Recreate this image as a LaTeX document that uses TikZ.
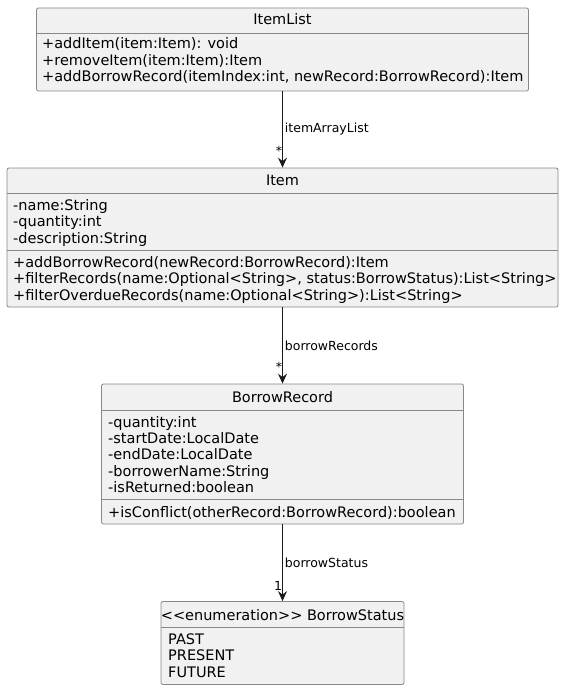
\documentclass[tikz,border=0pt]{standalone}
\usepackage{fontspec}
\setmainfont{DejaVu Sans}
\usetikzlibrary{arrows.meta,positioning}
\definecolor{umlfill}{RGB}{241,241,241}
\definecolor{umlborder}{RGB}{135,135,135}
\definecolor{umlline}{RGB}{24,24,24}
\tikzstyle{classbox} = [rectangle, rounded corners=2pt, draw=umlborder, fill=umlfill, line width=0.8pt, inner sep=0pt]
\tikzstyle{classtitle} = [font=\fontsize{14.5}{16}\selectfont, anchor=base, inner sep=0pt]
\tikzstyle{member} = [font=\fontsize{14.5}{16}\selectfont, anchor=base west, inner sep=0pt]
\tikzstyle{divider} = [draw=umlborder, line width=0.8pt]
\tikzstyle{assoc} = [line width=0.9pt, draw=umlline, -{Stealth[length=10pt,width=9pt,inset=3.5pt]}]
\tikzstyle{role} = [font=\fontsize{12.5}{14}\selectfont, inner sep=0pt]

\begin{document}
\begin{tikzpicture}[x=1pt, y=-1pt]
\useasboundingbox (0,0) rectangle (564,690);
% ItemList
\node (itemlist) [classbox, minimum width=492pt, minimum height=83pt] at (282.5,49.5) {};
\node (itemlist-title) [classtitle] at (282.5,25) {ItemList};
\draw[divider] (itemlist.west |- 0,33) -- (itemlist.east |- 0,33);
\foreach \txt [count=\i from 0] in {+addItem(item:Item): void, +removeItem(item:Item):Item, {+addBorrowRecord(itemIndex:int, newRecord:BorrowRecord):Item}}
  \node (itemlist-m\i) [member] at (42,{49+16.5*\i}) {\txt};

% Item
\node (item) [classbox, minimum width=551pt, minimum height=139pt] at (282.5,237.5) {};
\node (item-title) [classtitle] at (282.5,185) {Item};
\draw[divider] (item.west |- 0,193) -- (item.east |- 0,193);
\foreach \txt [count=\i from 0] in {-name:String, -quantity:int, -description:String}
  \node (item-a\i) [member] at (13,{210+16.5*\i}) {\txt};
\draw[divider] (item.west |- 0,250) -- (item.east |- 0,250);
\foreach \txt [count=\i from 0] in {+addBorrowRecord(newRecord:BorrowRecord):Item, {+filterRecords(name:Optional<String>, status:BorrowStatus):List<String>}, +filterOverdueRecords(name:Optional<String>):List<String>}
  \node (item-m\i) [member] at (13,{267+16.5*\i}) {\txt};

% BorrowRecord
\node (record) [classbox, minimum width=362pt, minimum height=140pt] at (282.5,454) {};
\node (record-title) [classtitle] at (282.5,402) {BorrowRecord};
\draw[divider] (record.west |- 0,410) -- (record.east |- 0,410);
\foreach \txt [count=\i from 0] in {-quantity:int, -startDate:LocalDate, -endDate:LocalDate, -borrowerName:String, -isReturned:boolean}
  \node (record-a\i) [member] at (108,{427.5+16.2*\i}) {\txt};
\draw[divider] (record.west |- 0,499) -- (record.east |- 0,499);
\node (record-m0) [member] at (108,517) {+isConflict(otherRecord:BorrowRecord):boolean};

% BorrowStatus
\node (status) [classbox, minimum width=243pt, minimum height=83pt] at (282.5,643) {};
\node (status-title) [classtitle] at (282.5,620) {{<}{<}enumeration{>}{>} BorrowStatus};
\draw[divider] (status.west |- 0,627.5) -- (status.east |- 0,627.5);
\foreach \txt [count=\i from 0] in {PAST, PRESENT, FUTURE}
  \node (status-v\i) [member] at (168,{644+16.5*\i}) {\txt};

% Associations
\draw[assoc] (itemlist.south) -- node[role, right=2pt] {itemArrayList} node[role, pos=1, anchor=base east, yshift=12pt] {*} (item.north);
\draw[assoc] (item.south) -- node[role, right=2pt] {borrowRecords} node[role, pos=1, anchor=base east, yshift=12pt] {*} (record.north);
\draw[assoc] (record.south) -- node[role, right=2pt] {borrowStatus} node[role, pos=1, anchor=base east, yshift=11pt] {1} (status.north);
\end{tikzpicture}
\end{document}
